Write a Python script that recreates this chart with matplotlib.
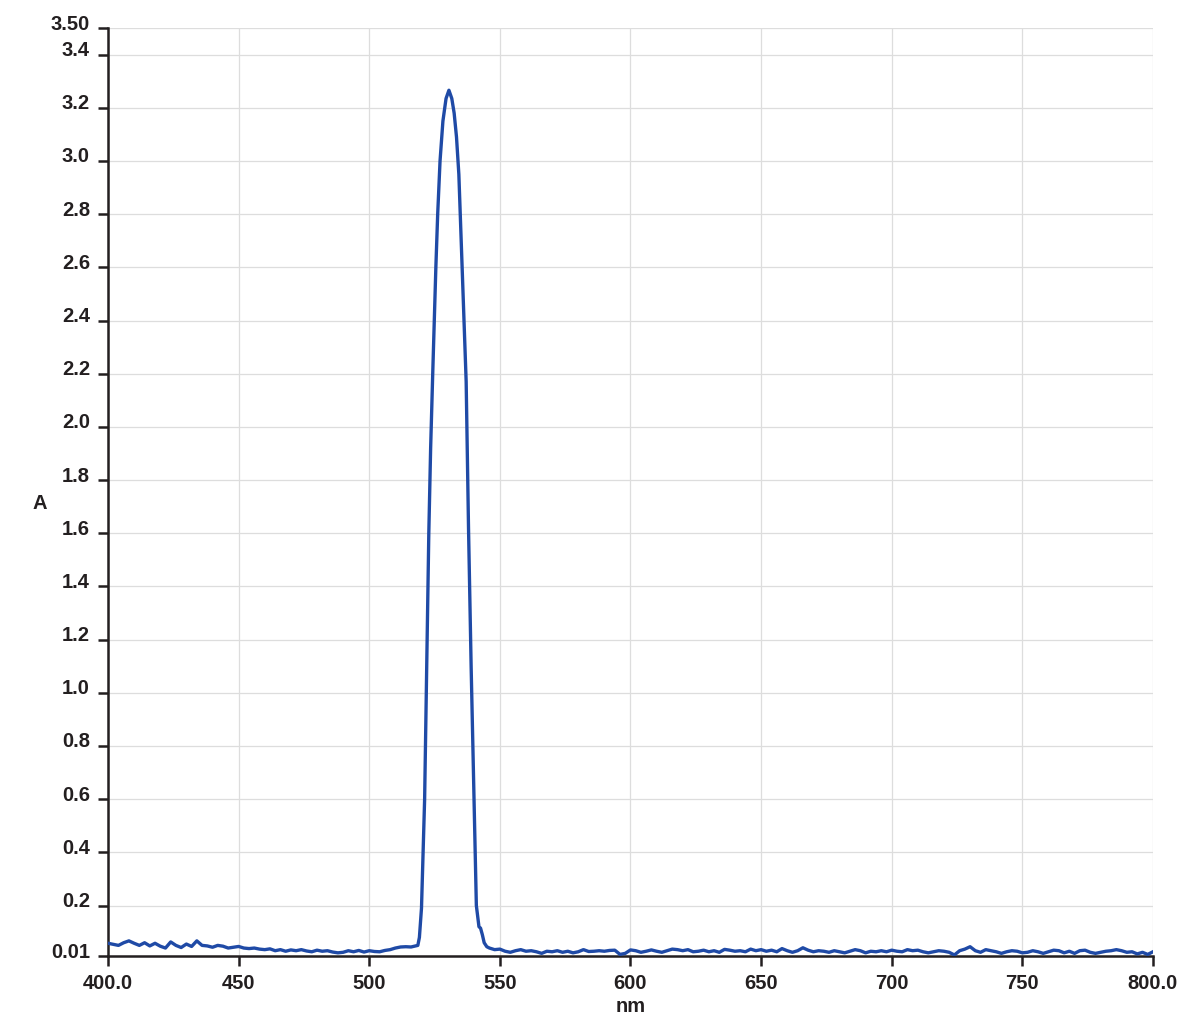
import matplotlib.pyplot as plt
import matplotlib.transforms as mtransforms
import numpy as np

plt.rcParams['font.family'] = ['Liberation Sans', 'DejaVu Sans']

# baseline before the band (nm step 2)
nm_left = list(range(400, 518, 2))
a_left = [0.058, 0.054, 0.050, 0.060, 0.067, 0.058, 0.050, 0.060, 0.048, 0.058,
          0.047, 0.040, 0.063, 0.050, 0.042, 0.055, 0.046, 0.067, 0.050, 0.048,
          0.043, 0.050, 0.047, 0.040, 0.043, 0.046, 0.040, 0.038, 0.040, 0.036,
          0.034, 0.037, 0.030, 0.034, 0.028, 0.033, 0.030, 0.034, 0.029, 0.026,
          0.032, 0.028, 0.030, 0.025, 0.022, 0.024, 0.030, 0.026, 0.031, 0.025,
          0.030, 0.027, 0.026, 0.031, 0.034, 0.040, 0.044, 0.045, 0.044]

# absorption band
nm_peak = [518.6, 519.2, 520.0, 520.6, 521.2, 522.0, 522.8, 523.5, 524.3, 525.5,
           526.2, 527.1, 528.2, 529.4, 530.5, 531.6, 532.5, 533.4, 534.3, 535.2,
           536.2, 537.1, 538.0, 539.0, 540.0, 541.0, 542.0, 542.6, 543.3, 544.0,
           545.0]
a_peak = [0.050, 0.080, 0.190, 0.400, 0.600, 1.100, 1.600, 1.920, 2.200, 2.600,
          2.800, 3.000, 3.150, 3.235, 3.266, 3.235, 3.180, 3.090, 2.950, 2.700,
          2.420, 2.170, 1.620, 1.100, 0.650, 0.200, 0.120, 0.115, 0.090, 0.060,
          0.045]

# baseline after the band (nm step 2)
nm_right = list(range(546, 802, 2))
a_right = [0.040, 0.034, 0.036, 0.028, 0.024, 0.030, 0.034, 0.028, 0.030, 0.026,
           0.020, 0.028, 0.026, 0.030, 0.024, 0.028, 0.022, 0.026, 0.034, 0.027,
           0.028, 0.030, 0.028, 0.031, 0.032, 0.016, 0.020, 0.033, 0.030, 0.024,
           0.028, 0.033, 0.028, 0.024, 0.030, 0.036, 0.034, 0.030, 0.034, 0.026,
           0.028, 0.032, 0.026, 0.030, 0.024, 0.035, 0.032, 0.028, 0.030, 0.026,
           0.036, 0.030, 0.034, 0.028, 0.032, 0.026, 0.038, 0.030, 0.024, 0.030,
           0.041, 0.032, 0.026, 0.030, 0.028, 0.024, 0.030, 0.026, 0.022, 0.028,
           0.034, 0.030, 0.022, 0.028, 0.026, 0.030, 0.026, 0.032, 0.028, 0.026,
           0.034, 0.030, 0.032, 0.026, 0.022, 0.026, 0.030, 0.028, 0.024, 0.014,
           0.030, 0.036, 0.045, 0.030, 0.024, 0.034, 0.030, 0.026, 0.020, 0.026,
           0.030, 0.028, 0.022, 0.024, 0.030, 0.026, 0.020, 0.026, 0.032, 0.030,
           0.022, 0.028, 0.020, 0.030, 0.032, 0.024, 0.020, 0.024, 0.028, 0.030,
           0.034, 0.030, 0.024, 0.026, 0.018, 0.024, 0.016, 0.026]

nm = nm_left + nm_peak + nm_right
absorb = a_left + a_peak + a_right

xticks = [400, 450, 500, 550, 600, 650, 700, 750, 800]
xlabels = ["400.0", "450", "500", "550", "600", "650", "700", "750", "800.0"]
yticks = [0.01, 0.2, 0.4, 0.6, 0.8, 1.0, 1.2, 1.4, 1.6, 1.8, 2.0, 2.2, 2.4,
          2.6, 2.8, 3.0, 3.2, 3.4, 3.5]
ylabels = ["0.01", "0.2", "0.4", "0.6", "0.8", "1.0", "1.2", "1.4", "1.6", "1.8",
           "2.0", "2.2", "2.4", "2.6", "2.8", "3.0", "3.2", "3.4", "3.50"]

text_col = "#231f20"

fig = plt.figure(figsize=(11.83, 10.19), dpi=100)
ax = fig.add_axes([0.0913, 0.0618, 0.8833, 0.9107])

ax.plot(nm, absorb, color="#1f4aa6", lw=2.4, zorder=3)

ax.set_xlim(400, 800)
ax.set_ylim(0.01, 3.5)
ax.set_xticks(xticks)
ax.set_xticklabels(xlabels)
ax.set_yticks(yticks)
ax.set_yticklabels(ylabels)

ax.tick_params(direction="out", length=7, width=1.8, color=text_col, pad=6)
ax.grid(True, color="#dddddd", lw=0.9, zorder=0)
ax.set_axisbelow(True)

for lab in ax.get_xticklabels() + ax.get_yticklabels():
    lab.set_fontweight("bold")
    lab.set_fontsize(14.5)
    lab.set_color(text_col)

# y labels sit a bit above their ticks in the original
shift = mtransforms.ScaledTranslation(0, 6 / 100, fig.dpi_scale_trans)
for lab in ax.get_yticklabels():
    lab.set_transform(lab.get_transform() + shift)

for side in ["top", "right"]:
    ax.spines[side].set_visible(False)
for side in ["left", "bottom"]:
    ax.spines[side].set_linewidth(1.8)
    ax.spines[side].set_color(text_col)

ax.set_xlabel("nm", fontsize=14.5, fontweight="bold", color=text_col, labelpad=3)
ax.set_ylabel("A", fontsize=14.5, fontweight="bold", color=text_col, rotation=0,
              va="center")
ax.yaxis.set_label_coords(-0.065, 0.488)

plt.savefig("out.png", dpi=100)
